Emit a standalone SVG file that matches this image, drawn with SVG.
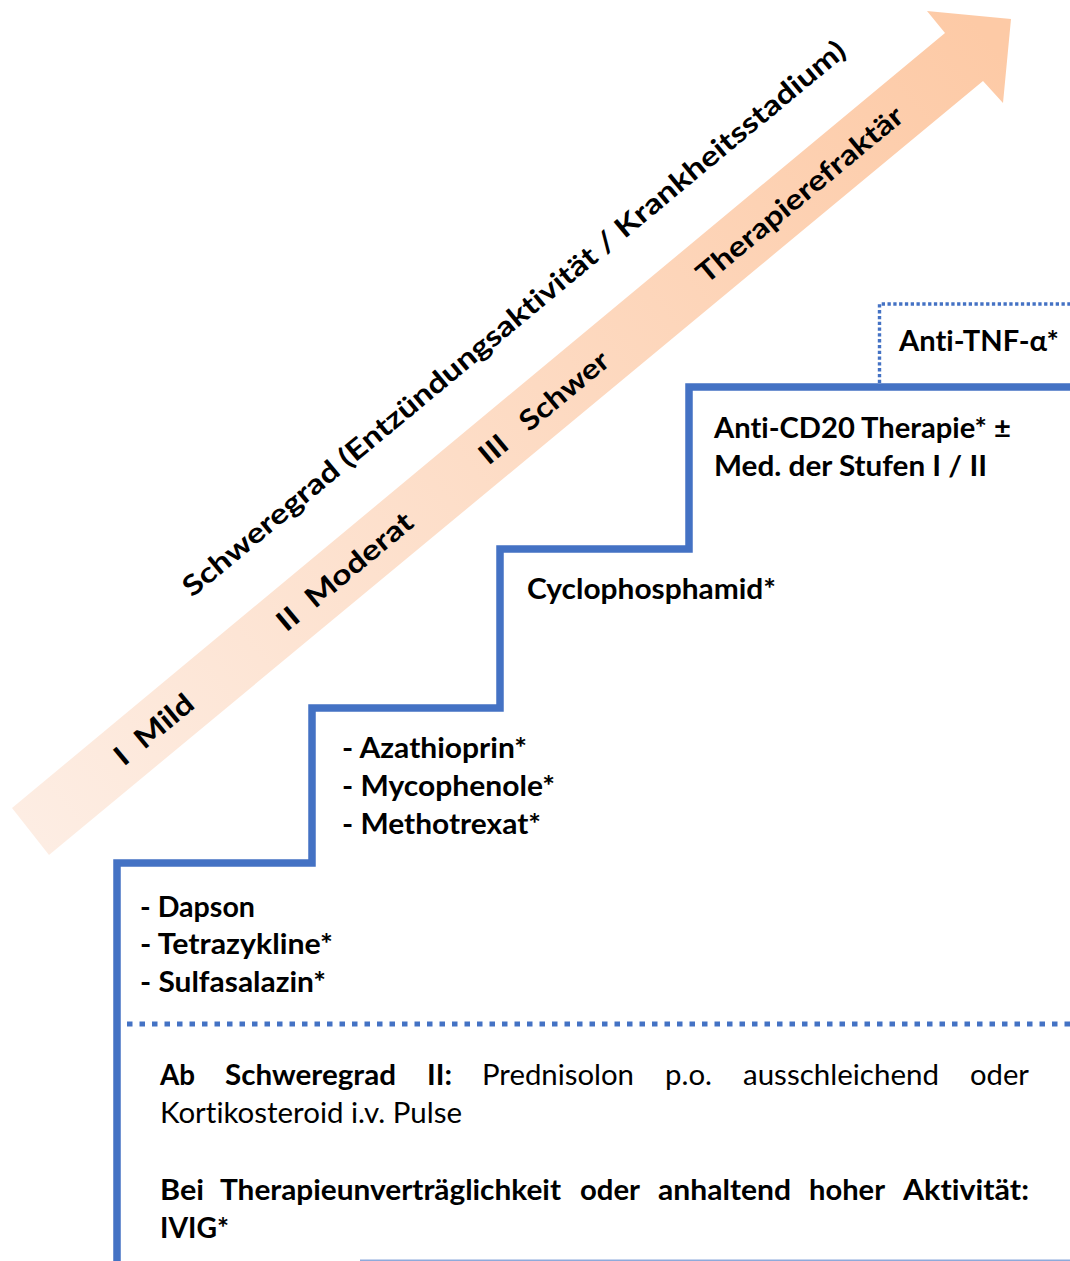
<svg xmlns="http://www.w3.org/2000/svg" width="1070" height="1261" viewBox="0 0 1070 1261">
<defs>
<linearGradient id="arrowGrad" gradientUnits="userSpaceOnUse" x1="30" y1="830" x2="990" y2="40">
<stop offset="0" stop-color="#fdede3"/>
<stop offset="1" stop-color="#fdcaa6"/>
</linearGradient>
<style>
.t{font-family:Lato,"Liberation Sans",sans-serif;font-size:28px;fill:#000;font-variant-ligatures:none;font-feature-settings:"liga" 0,"clig" 0;white-space:pre;}
.b{font-weight:bold;}
.r{font-weight:normal;}
.stair{fill:none;stroke:#4472c4;stroke-width:7.5;stroke-linejoin:miter;stroke-linecap:butt;}
.dot1{fill:none;stroke:#4472c4;stroke-width:5;stroke-dasharray:5.5 7;}
.dot2{fill:none;stroke:#4472c4;stroke-width:3.4;stroke-dasharray:3.3 2.5;}
</style>
</defs>
<rect width="1070" height="1261" fill="#fff"/>

<g id="arrow">
<polygon points="12,808 945,33 927,11 1011,19 1003,103 983,81 49,855" fill="url(#arrowGrad)"/>
</g>

<g id="arrow-labels">
<text id="title" class="t b" text-anchor="middle" transform="translate(520,326) rotate(-39.7)" textLength="852" lengthAdjust="spacingAndGlyphs">Schweregrad (Entzündungsaktivität / Krankheitsstadium)</text>
<text id="lbl-mild" class="t b" text-anchor="middle" transform="translate(160,737) rotate(-39.7)" textLength="94" lengthAdjust="spacingAndGlyphs">I&#160;&#160;Mild</text>
<text id="lbl-moderat" class="t b" text-anchor="middle" transform="translate(351,579) rotate(-39.7)" textLength="168" lengthAdjust="spacingAndGlyphs">II&#160;&#160;Moderat</text>
<text id="lbl-schwer" class="t b" text-anchor="middle" transform="translate(550,415) rotate(-39.7)" textLength="160" lengthAdjust="spacingAndGlyphs">III&#160;&#160;&#160;Schwer</text>
<text id="lbl-refraktaer" class="t b" text-anchor="middle" transform="translate(806,202) rotate(-39.7)" textLength="259" lengthAdjust="spacingAndGlyphs">Therapierefraktär</text>
</g>

<g id="connectors">
<path class="stair" d="M117,1261 V863 H312 V708 H500 V549 H689 V387 H1070"/>
<path class="dot2" d="M879.5,383 V304 H1070"/>
<path class="dot1" d="M127,1024 H1070"/>
<line x1="360" y1="1260.3" x2="1070" y2="1260.3" stroke="#8eaadb" stroke-width="1.4"/>
</g>

<g id="step1">
<text class="t b" x="140" y="917" textLength="115" lengthAdjust="spacingAndGlyphs">- Dapson</text>
<text class="t b" x="140" y="954" textLength="193" lengthAdjust="spacingAndGlyphs">- Tetrazykline*</text>
<text class="t b" x="140" y="992" textLength="186" lengthAdjust="spacingAndGlyphs">- Sulfasalazin*</text>
</g>

<g id="step2">
<text class="t b" x="342" y="758" textLength="185" lengthAdjust="spacingAndGlyphs">- Azathioprin*</text>
<text class="t b" x="342" y="796" textLength="213" lengthAdjust="spacingAndGlyphs">- Mycophenole*</text>
<text class="t b" x="342" y="834" textLength="199" lengthAdjust="spacingAndGlyphs">- Methotrexat*</text>
</g>

<g id="step3">
<text class="t b" x="527" y="599" textLength="249" lengthAdjust="spacingAndGlyphs">Cyclophosphamid*</text>
</g>

<g id="step4">
<text class="t b" x="714" y="438" textLength="297" lengthAdjust="spacingAndGlyphs">Anti-CD20 Therapie* ±</text>
<text class="t b" x="714" y="476" textLength="273" lengthAdjust="spacingAndGlyphs">Med. der Stufen I / II</text>
</g>

<g id="step5">
<text class="t b" x="899" y="351" textLength="160" lengthAdjust="spacingAndGlyphs">Anti-TNF-α*</text>
</g>

<g id="basis">
<text class="t b" x="160" y="1085" textLength="35" lengthAdjust="spacingAndGlyphs">Ab</text>
<text class="t b" x="225" y="1085" textLength="171" lengthAdjust="spacingAndGlyphs">Schweregrad</text>
<text class="t b" x="427" y="1085" textLength="25" lengthAdjust="spacingAndGlyphs">II:</text>
<text class="t r" x="482" y="1085" textLength="152" lengthAdjust="spacingAndGlyphs">Prednisolon</text>
<text class="t r" x="665" y="1085" textLength="47" lengthAdjust="spacingAndGlyphs">p.o.</text>
<text class="t r" x="743" y="1085" textLength="196" lengthAdjust="spacingAndGlyphs">ausschleichend</text>
<text class="t r" x="970" y="1085" textLength="59" lengthAdjust="spacingAndGlyphs">oder</text>
<text class="t r" x="160" y="1123" textLength="302" lengthAdjust="spacingAndGlyphs">Kortikosteroid i.v. Pulse</text>
<text class="t b" x="160" y="1200" textLength="44" lengthAdjust="spacingAndGlyphs">Bei</text>
<text class="t b" x="220" y="1200" textLength="341" lengthAdjust="spacingAndGlyphs">Therapieunverträglichkeit</text>
<text class="t b" x="580" y="1200" textLength="60" lengthAdjust="spacingAndGlyphs">oder</text>
<text class="t b" x="658" y="1200" textLength="133" lengthAdjust="spacingAndGlyphs">anhaltend</text>
<text class="t b" x="809" y="1200" textLength="76" lengthAdjust="spacingAndGlyphs">hoher</text>
<text class="t b" x="903" y="1200" textLength="126" lengthAdjust="spacingAndGlyphs">Aktivität:</text>
<text class="t b" x="160" y="1238" textLength="69" lengthAdjust="spacingAndGlyphs">IVIG*</text>
</g>
</svg>
